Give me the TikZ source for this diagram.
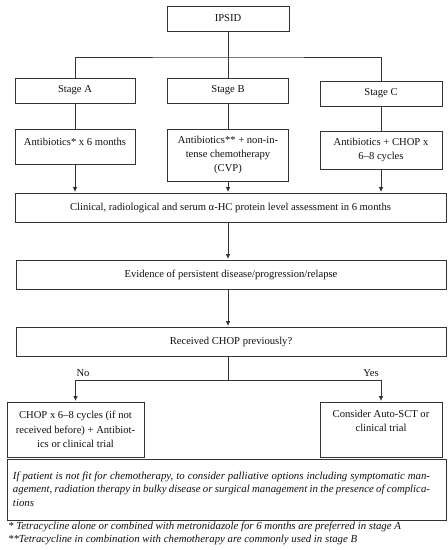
\documentclass[tikz,border=0pt]{standalone}
\usepackage{fontspec}
\setmainfont{Liberation Serif}
\usetikzlibrary{arrows.meta}
\definecolor{linec}{HTML}{333333}
\definecolor{textc}{HTML}{111111}
\begin{document}
\begin{tikzpicture}[x={(1bp,0bp)},y={(0bp,-1bp)},
  ln/.style={draw=linec, line width=0.8bp},
  arr/.style={ln, -{Triangle[length=4.5bp,width=4bp]}, shorten >=1bp},
  box/.style={draw=linec, line width=0.8bp, inner sep=2bp, align=center, text=textc,
    font=\fontsize{10.6bp}{14.3bp}\selectfont},
  txt/.style={inner sep=0bp, align=center, text=textc, font=\fontsize{10.6bp}{14.3bp}\selectfont},
  lab/.style={inner sep=0bp, text=textc, font=\fontsize{10.6bp}{14.3bp}\selectfont},
  itx/.style={inner sep=0bp, text=textc, font=\itshape\fontsize{10.8bp}{13.5bp}\selectfont}
]
\fill[white] (0,0) rectangle (448,550);
\useasboundingbox (0,0) rectangle (448,550);

\node[box, minimum width=122bp, minimum height=25bp] (ipsid) at (228,18.5) {IPSID};
\node[box, minimum width=120bp, minimum height=25bp] (stA) at (75,90.5) {Stage A};
\node[box, minimum width=121bp, minimum height=25bp] (stB) at (228,90.5) {Stage B};
\node[box, minimum width=122bp, minimum height=25bp] (stC) at (381,93.5) {Stage C};

\node[box, minimum width=120bp, minimum height=35bp] (trA) at (75,146.5) {};
\node[txt] (trAt) at (75,142) {Antibiotics* x 6 months};
\node[box, minimum width=121bp, minimum height=52bp] (trB) at (228,155) {Antibiotics** + non-in-\\tense chemotherapy\\(CVP)};
\node[box, minimum width=122bp, minimum height=38bp] (trC) at (381,150) {Antibiotics + CHOP x\\6–8 cycles};

\node[box, minimum width=431bp, minimum height=29bp] (clin) at (230.5,207.5) {Clinical, radiological and serum α-HC protein level assessment in 6 months};
\node[box, minimum width=430bp, minimum height=29bp] (evid) at (231,274.5) {Evidence of persistent disease/progression/relapse};
\node[box, minimum width=430bp, minimum height=29bp] (recv) at (231,341.5) {Received CHOP previously?};

\node[box, minimum width=137bp, minimum height=55bp] (chop) at (75.5,429.5) {CHOP x 6–8 cycles (if not\\received before) + Antibiot-\\ics or clinical trial};
\node[box, minimum width=122bp, minimum height=55bp] (cons) at (381,429.5) {};
\node[txt] (const) at (381,421) {Consider Auto-SCT or\\clinical trial};

\node[box, minimum width=439bp, minimum height=61bp] (unfit) at (226.5,489.5) {};
\node[itx, text width=417bp, align=justify] (unfitT) at (221.5,489)
  {If patient is not fit for chemotherapy, to consider palliative options including symptomatic man-\linebreak agement, radiation therapy in bulky disease or surgical management in the presence of complica-\linebreak tions};

\node[itx, anchor=west] (fn1) at (8,527) {* Tetracycline alone or combined with metronidazole for 6 months are preferred in stage A};
\node[itx, anchor=west] (fn2) at (8,540) {**Tetracycline in combination with chemotherapy are commonly used in stage B};

% connectors
\coordinate (j1) at (228,57);
\draw[ln] (ipsid.south) -- (j1);
\draw[ln] (stA.north) |- (j1) -| (stC.north);
\draw[ln] (j1) -- (stB.north);
\draw[ln] (stA.south) -- (trA.north);
\draw[ln] (stB.south) -- (trB.north);
\draw[ln] (stC.south) -- (trC.north);
\draw[arr] (trA.south) -- (trA.south |- clin.north);
\draw[arr] (trB.south) -- (trB.south |- clin.north);
\draw[arr] (trC.south) -- (trC.south |- clin.north);
\draw[arr] (clin.south -| j1) -- (evid.north -| j1);
\draw[arr] (evid.south -| j1) -- (recv.north -| j1);
\coordinate (j2) at (228,380);
\draw[ln] (recv.south -| j2) -- (j2);
\draw[arr] (j2) -| (chop.north);
\draw[arr] (j2) -| (cons.north);
\node[lab] (no) at (83,373) {No};
\node[lab] (yes) at (371,373) {Yes};
\end{tikzpicture}
\end{document}
